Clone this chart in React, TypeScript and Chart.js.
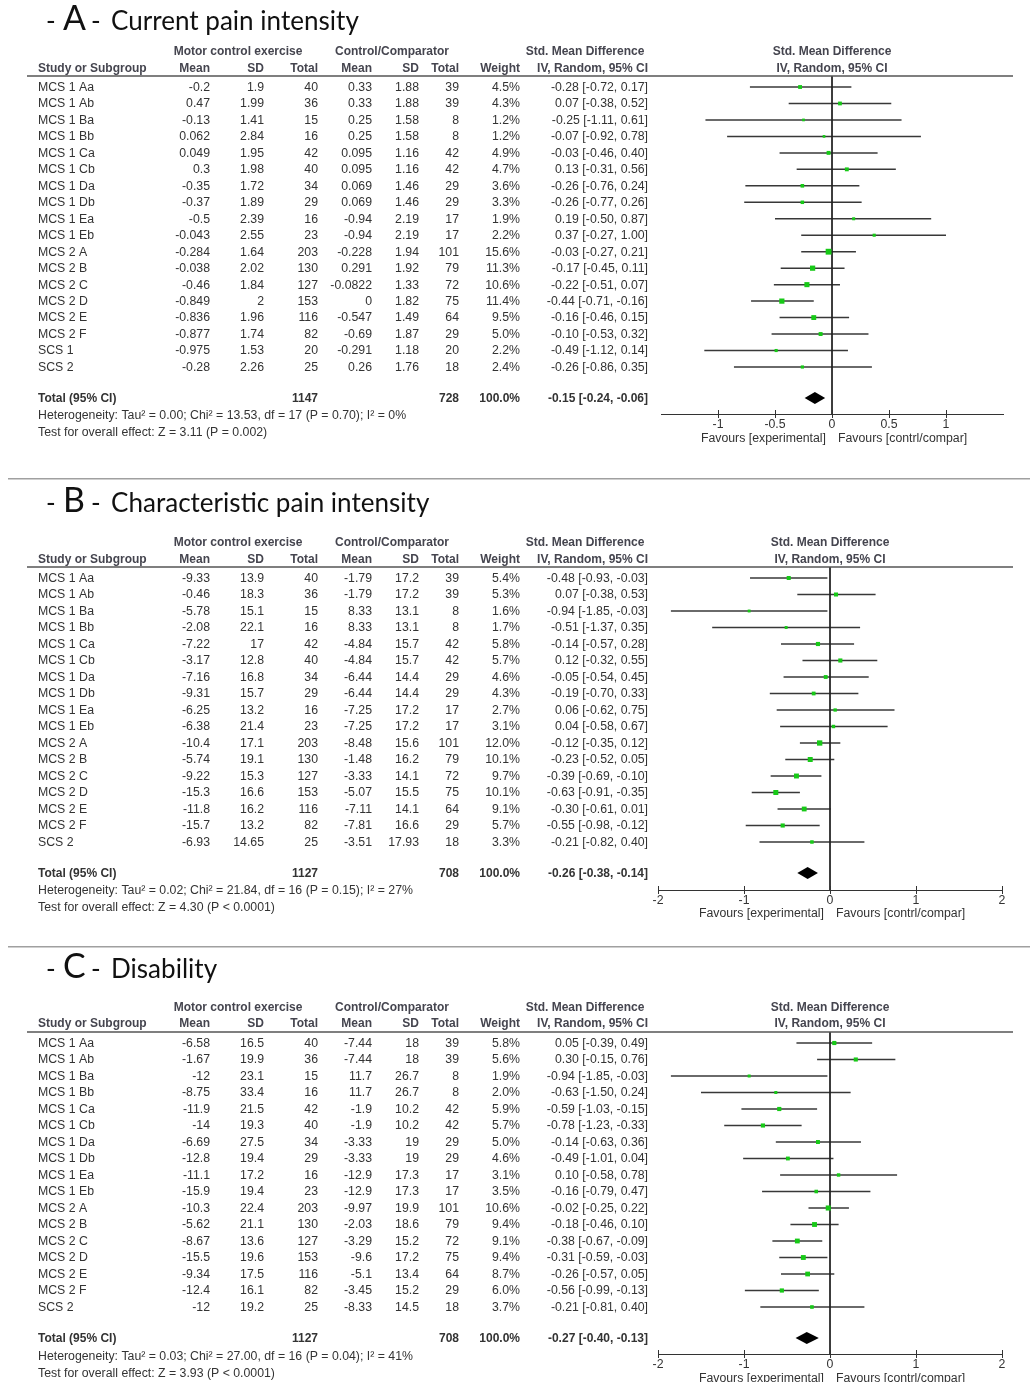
import React, { useEffect, useRef } from 'react';
import { Chart, registerables } from 'chart.js';

Chart.register(...registerables);

// ---------- Panel A: Current pain intensity ----------
const A_studies = ['MCS 1 Aa', 'MCS 1 Ab', 'MCS 1 Ba', 'MCS 1 Bb', 'MCS 1 Ca', 'MCS 1 Cb', 'MCS 1 Da', 'MCS 1 Db', 'MCS 1 Ea', 'MCS 1 Eb', 'MCS 2 A', 'MCS 2 B', 'MCS 2 C', 'MCS 2 D', 'MCS 2 E', 'MCS 2 F', 'SCS 1', 'SCS 2'];
const A_expMean = [-0.2, 0.47, -0.13, 0.062, 0.049, 0.3, -0.35, -0.37, -0.5, -0.043, -0.284, -0.038, -0.46, -0.849, -0.836, -0.877, -0.975, -0.28];
const A_expSD = [1.9, 1.99, 1.41, 2.84, 1.95, 1.98, 1.72, 1.89, 2.39, 2.55, 1.64, 2.02, 1.84, 2, 1.96, 1.74, 1.53, 2.26];
const A_expN = [40, 36, 15, 16, 42, 40, 34, 29, 16, 23, 203, 130, 127, 153, 116, 82, 20, 25];
const A_ctlMean = [0.33, 0.33, 0.25, 0.25, 0.095, 0.095, 0.069, 0.069, -0.94, -0.94, -0.228, 0.291, -0.0822, 0, -0.547, -0.69, -0.291, 0.26];
const A_ctlSD = [1.88, 1.88, 1.58, 1.58, 1.16, 1.16, 1.46, 1.46, 2.19, 2.19, 1.94, 1.92, 1.33, 1.82, 1.49, 1.87, 1.18, 1.76];
const A_ctlN = [39, 39, 8, 8, 42, 42, 29, 29, 17, 17, 101, 79, 72, 75, 64, 29, 20, 18];
const A_weight = [4.5, 4.3, 1.2, 1.2, 4.9, 4.7, 3.6, 3.3, 1.9, 2.2, 15.6, 11.3, 10.6, 11.4, 9.5, 5.0, 2.2, 2.4];
const A_smd = [-0.28, 0.07, -0.25, -0.07, -0.03, 0.13, -0.26, -0.26, 0.19, 0.37, -0.03, -0.17, -0.22, -0.44, -0.16, -0.10, -0.49, -0.26];
const A_lo = [-0.72, -0.38, -1.11, -0.92, -0.46, -0.31, -0.76, -0.77, -0.50, -0.27, -0.27, -0.45, -0.51, -0.71, -0.46, -0.53, -1.12, -0.86];
const A_hi = [0.17, 0.52, 0.61, 0.78, 0.40, 0.56, 0.24, 0.26, 0.87, 1.00, 0.21, 0.11, 0.07, -0.16, 0.15, 0.32, 0.14, 0.35];
const A_totalN = [1147, 728];
const A_pooled = [-0.15, -0.24, -0.06];
const A_ticks = [-1, -0.5, 0, 0.5, 1];
const A_range = [-1.5, 1.5];
const A_het = 'Heterogeneity: Tau² = 0.00; Chi² = 13.53, df = 17 (P = 0.70); I² = 0%';
const A_test = 'Test for overall effect: Z = 3.11 (P = 0.002)';

// ---------- Panel B: Characteristic pain intensity ----------
const B_studies = ['MCS 1 Aa', 'MCS 1 Ab', 'MCS 1 Ba', 'MCS 1 Bb', 'MCS 1 Ca', 'MCS 1 Cb', 'MCS 1 Da', 'MCS 1 Db', 'MCS 1 Ea', 'MCS 1 Eb', 'MCS 2 A', 'MCS 2 B', 'MCS 2 C', 'MCS 2 D', 'MCS 2 E', 'MCS 2 F', 'SCS 2'];
const B_expMean = [-9.33, -0.46, -5.78, -2.08, -7.22, -3.17, -7.16, -9.31, -6.25, -6.38, -10.4, -5.74, -9.22, -15.3, -11.8, -15.7, -6.93];
const B_expSD = [13.9, 18.3, 15.1, 22.1, 17, 12.8, 16.8, 15.7, 13.2, 21.4, 17.1, 19.1, 15.3, 16.6, 16.2, 13.2, 14.65];
const B_expN = [40, 36, 15, 16, 42, 40, 34, 29, 16, 23, 203, 130, 127, 153, 116, 82, 25];
const B_ctlMean = [-1.79, -1.79, 8.33, 8.33, -4.84, -4.84, -6.44, -6.44, -7.25, -7.25, -8.48, -1.48, -3.33, -5.07, -7.11, -7.81, -3.51];
const B_ctlSD = [17.2, 17.2, 13.1, 13.1, 15.7, 15.7, 14.4, 14.4, 17.2, 17.2, 15.6, 16.2, 14.1, 15.5, 14.1, 16.6, 17.93];
const B_ctlN = [39, 39, 8, 8, 42, 42, 29, 29, 17, 17, 101, 79, 72, 75, 64, 29, 18];
const B_weight = [5.4, 5.3, 1.6, 1.7, 5.8, 5.7, 4.6, 4.3, 2.7, 3.1, 12.0, 10.1, 9.7, 10.1, 9.1, 5.7, 3.3];
const B_smd = [-0.48, 0.07, -0.94, -0.51, -0.14, 0.12, -0.05, -0.19, 0.06, 0.04, -0.12, -0.23, -0.39, -0.63, -0.30, -0.55, -0.21];
const B_lo = [-0.93, -0.38, -1.85, -1.37, -0.57, -0.32, -0.54, -0.70, -0.62, -0.58, -0.35, -0.52, -0.69, -0.91, -0.61, -0.98, -0.82];
const B_hi = [-0.03, 0.53, -0.03, 0.35, 0.28, 0.55, 0.45, 0.33, 0.75, 0.67, 0.12, 0.05, -0.10, -0.35, 0.01, -0.12, 0.40];
const B_totalN = [1127, 708];
const B_pooled = [-0.26, -0.38, -0.14];
const B_ticks = [-2, -1, 0, 1, 2];
const B_range = [-2, 2];
const B_het = 'Heterogeneity: Tau² = 0.02; Chi² = 21.84, df = 16 (P = 0.15); I² = 27%';
const B_test = 'Test for overall effect: Z = 4.30 (P < 0.0001)';

// ---------- Panel C: Disability ----------
const C_studies = ['MCS 1 Aa', 'MCS 1 Ab', 'MCS 1 Ba', 'MCS 1 Bb', 'MCS 1 Ca', 'MCS 1 Cb', 'MCS 1 Da', 'MCS 1 Db', 'MCS 1 Ea', 'MCS 1 Eb', 'MCS 2 A', 'MCS 2 B', 'MCS 2 C', 'MCS 2 D', 'MCS 2 E', 'MCS 2 F', 'SCS 2'];
const C_expMean = [-6.58, -1.67, -12, -8.75, -11.9, -14, -6.69, -12.8, -11.1, -15.9, -10.3, -5.62, -8.67, -15.5, -9.34, -12.4, -12];
const C_expSD = [16.5, 19.9, 23.1, 33.4, 21.5, 19.3, 27.5, 19.4, 17.2, 19.4, 22.4, 21.1, 13.6, 19.6, 17.5, 16.1, 19.2];
const C_expN = [40, 36, 15, 16, 42, 40, 34, 29, 16, 23, 203, 130, 127, 153, 116, 82, 25];
const C_ctlMean = [-7.44, -7.44, 11.7, 11.7, -1.9, -1.9, -3.33, -3.33, -12.9, -12.9, -9.97, -2.03, -3.29, -9.6, -5.1, -3.45, -8.33];
const C_ctlSD = [18, 18, 26.7, 26.7, 10.2, 10.2, 19, 19, 17.3, 17.3, 19.9, 18.6, 15.2, 17.2, 13.4, 15.2, 14.5];
const C_ctlN = [39, 39, 8, 8, 42, 42, 29, 29, 17, 17, 101, 79, 72, 75, 64, 29, 18];
const C_weight = [5.8, 5.6, 1.9, 2.0, 5.9, 5.7, 5.0, 4.6, 3.1, 3.5, 10.6, 9.4, 9.1, 9.4, 8.7, 6.0, 3.7];
const C_smd = [0.05, 0.30, -0.94, -0.63, -0.59, -0.78, -0.14, -0.49, 0.10, -0.16, -0.02, -0.18, -0.38, -0.31, -0.26, -0.56, -0.21];
const C_lo = [-0.39, -0.15, -1.85, -1.50, -1.03, -1.23, -0.63, -1.01, -0.58, -0.79, -0.25, -0.46, -0.67, -0.59, -0.57, -0.99, -0.81];
const C_hi = [0.49, 0.76, -0.03, 0.24, -0.15, -0.33, 0.36, 0.04, 0.78, 0.47, 0.22, 0.10, -0.09, -0.03, 0.05, -0.13, 0.40];
const C_totalN = [1127, 708];
const C_pooled = [-0.27, -0.40, -0.13];
const C_ticks = [-2, -1, 0, 1, 2];
const C_range = [-2, 2];
const C_het = 'Heterogeneity: Tau² = 0.03; Chi² = 27.00, df = 16 (P = 0.04); I² = 41%';
const C_test = 'Test for overall effect: Z = 3.93 (P < 0.0001)';

const PANELS = [
  { letter: 'A', title: 'Current pain intensity', studies: A_studies, expMean: A_expMean, expSD: A_expSD, expN: A_expN, ctlMean: A_ctlMean, ctlSD: A_ctlSD, ctlN: A_ctlN, weight: A_weight, smd: A_smd, lo: A_lo, hi: A_hi, totalN: A_totalN, pooled: A_pooled, ticks: A_ticks, range: A_range, het: A_het, test: A_test },
  { letter: 'B', title: 'Characteristic pain intensity', studies: B_studies, expMean: B_expMean, expSD: B_expSD, expN: B_expN, ctlMean: B_ctlMean, ctlSD: B_ctlSD, ctlN: B_ctlN, weight: B_weight, smd: B_smd, lo: B_lo, hi: B_hi, totalN: B_totalN, pooled: B_pooled, ticks: B_ticks, range: B_range, het: B_het, test: B_test },
  { letter: 'C', title: 'Disability', studies: C_studies, expMean: C_expMean, expSD: C_expSD, expN: C_expN, ctlMean: C_ctlMean, ctlSD: C_ctlSD, ctlN: C_ctlN, weight: C_weight, smd: C_smd, lo: C_lo, hi: C_hi, totalN: C_totalN, pooled: C_pooled, ticks: C_ticks, range: C_range, het: C_het, test: C_test },
];

// ---------- Layout (pixels) ----------
const LAYOUTS = [
  { h: 478, titleY: 30, groupY: 52, headY: 69, lineY: 76, row0: 87, step: 16.47, totalY: 398, hetY: 416, testY: 433, axisY: 414, favY: 439, plotL: 661, plotR: 1003, sep: false },
  { h: 468, titleY: 34, groupY: 65, headY: 82, lineY: 89, row0: 100, step: 16.5, totalY: 395, hetY: 413, testY: 430, axisY: 412, favY: 436, plotL: 658, plotR: 1002, sep: true },
  { h: 436, titleY: 32, groupY: 62, headY: 78, lineY: 86, row0: 97, step: 16.5, totalY: 392, hetY: 411, testY: 428, axisY: 408, favY: 433, plotL: 658, plotR: 1002, sep: true },
];

const W = 1030;
const FONT = '"Liberation Sans", Arial, Helvetica, sans-serif';
const TITLE_FONT = 'Lato, "Open Sans", sans-serif';
const TEXT = '#333333';
const HEAD = '#45454f';
const GREEN = '#17c917';
const AXIS_H = 20;
const BODY_SIZE = 12.3;

const f2 = (v: number) => v.toFixed(2);
const ci = (m: number, l: number, h: number) => `${f2(m)} [${f2(l)}, ${f2(h)}]`;

// column right edges
const COL = { study: 38, eMean: 210, eSD: 264, eN: 318, cMean: 372, cSD: 419, cN: 459, weight: 520, ci: 648 };

function titleSize(ctx: CanvasRenderingContext2D) {
  ctx.save();
  ctx.font = `100px ${TITLE_FONT}`;
  const w = ctx.measureText('Current pain intensity').width;
  ctx.restore();
  return Math.max(18, Math.min(30, (100 * 248) / w));
}

function makePlugin(P: any, L: any) {
  return {
    id: 'forestTable' + P.letter,
    afterDatasetsDraw(chart: any) {
      const ctx = chart.ctx as CanvasRenderingContext2D;
      const xs = chart.scales.x;
      const ys = chart.scales.y;
      const yT = ys.getPixelForValue((L.totalY - L.row0) / L.step);
      const xl = xs.getPixelForValue(P.pooled[1]);
      const xm = xs.getPixelForValue(P.pooled[0]);
      const xh = xs.getPixelForValue(P.pooled[2]);
      ctx.save();
      ctx.fillStyle = '#000';
      ctx.beginPath();
      ctx.moveTo(xl, yT);
      ctx.lineTo(xm, yT - 6);
      ctx.lineTo(xh, yT);
      ctx.lineTo(xm, yT + 6);
      ctx.closePath();
      ctx.fill();
      // tick marks crossing the axis
      ctx.strokeStyle = '#333';
      ctx.lineWidth = 1;
      const ay = chart.chartArea.bottom;
      for (const t of xs.ticks) {
        const px = Math.round(xs.getPixelForValue(t.value)) + 0.5;
        ctx.beginPath();
        ctx.moveTo(px, ay - 4);
        ctx.lineTo(px, ay + 4);
        ctx.stroke();
      }
      ctx.restore();
    },
    afterDraw(chart: any) {
      const ctx = chart.ctx as CanvasRenderingContext2D;
      const xs = chart.scales.x;
      const ys = chart.scales.y;
      const ca = chart.chartArea;
      ctx.save();
      if (L.sep) {
        ctx.strokeStyle = '#a0a0a0';
        ctx.lineWidth = 1.5;
        ctx.beginPath();
        ctx.moveTo(8, 0.75);
        ctx.lineTo(W, 0.75);
        ctx.stroke();
      }
      // title
      const ts = titleSize(ctx);
      ctx.fillStyle = '#111';
      ctx.textBaseline = 'alphabetic';
      ctx.textAlign = 'left';
      ctx.font = `${ts}px ${TITLE_FONT}`;
      ctx.fillText('-', 46, L.titleY);
      ctx.font = `${ts * 1.3}px ${TITLE_FONT}`;
      ctx.fillText(P.letter, 63, L.titleY);
      ctx.font = `${ts}px ${TITLE_FONT}`;
      ctx.fillText('-', 91, L.titleY);
      ctx.fillText(P.title, 111, L.titleY);

      // group headers
      ctx.textBaseline = 'middle';
      ctx.font = `bold 12px ${FONT}`;
      ctx.fillStyle = HEAD;
      ctx.textAlign = 'center';
      const mid = (ca.left + ca.right) / 2;
      ctx.fillText('Motor control exercise', 238, L.groupY);
      ctx.fillText('Control/Comparator', 392, L.groupY);
      ctx.fillText('Std. Mean Difference', 585, L.groupY);
      ctx.fillText('Std. Mean Difference', mid, L.groupY);
      ctx.fillText('IV, Random, 95% CI', mid, L.headY);
      ctx.textAlign = 'left';
      ctx.fillText('Study or Subgroup', COL.study, L.headY);
      ctx.textAlign = 'right';
      ctx.fillText('Mean', COL.eMean, L.headY);
      ctx.fillText('SD', COL.eSD, L.headY);
      ctx.fillText('Total', COL.eN, L.headY);
      ctx.fillText('Mean', COL.cMean, L.headY);
      ctx.fillText('SD', COL.cSD, L.headY);
      ctx.fillText('Total', COL.cN, L.headY);
      ctx.fillText('Weight', COL.weight, L.headY);
      ctx.fillText('IV, Random, 95% CI', COL.ci, L.headY);

      // header underline
      ctx.strokeStyle = '#555';
      ctx.lineWidth = 1.5;
      ctx.beginPath();
      ctx.moveTo(27, L.lineY);
      ctx.lineTo(1013, L.lineY);
      ctx.stroke();

      // study rows
      ctx.font = `${BODY_SIZE}px ${FONT}`;
      ctx.fillStyle = TEXT;
      P.studies.forEach((s: string, i: number) => {
        const y = ys.getPixelForValue(i) + 0.5;
        ctx.textAlign = 'left';
        ctx.fillText(s, COL.study, y);
        ctx.textAlign = 'right';
        ctx.fillText(String(P.expMean[i]), COL.eMean, y);
        ctx.fillText(String(P.expSD[i]), COL.eSD, y);
        ctx.fillText(String(P.expN[i]), COL.eN, y);
        ctx.fillText(String(P.ctlMean[i]), COL.cMean, y);
        ctx.fillText(String(P.ctlSD[i]), COL.cSD, y);
        ctx.fillText(String(P.ctlN[i]), COL.cN, y);
        ctx.fillText(P.weight[i].toFixed(1) + '%', COL.weight, y);
        ctx.fillText(ci(P.smd[i], P.lo[i], P.hi[i]), COL.ci, y);
      });

      // total row
      const yT = ys.getPixelForValue((L.totalY - L.row0) / L.step) + 0.5;
      ctx.font = `bold 12px ${FONT}`;
      ctx.textAlign = 'left';
      ctx.fillText('Total (95% CI)', COL.study, yT);
      ctx.textAlign = 'right';
      ctx.fillText(String(P.totalN[0]), COL.eN, yT);
      ctx.fillText(String(P.totalN[1]), COL.cN, yT);
      ctx.fillText('100.0%', COL.weight, yT);
      ctx.fillText(ci(P.pooled[0], P.pooled[1], P.pooled[2]), COL.ci, yT);

      ctx.font = `${BODY_SIZE}px ${FONT}`;
      ctx.textAlign = 'left';
      ctx.fillText(P.het, COL.study, L.hetY);
      ctx.fillText(P.test, COL.study, L.testY);

      // favours labels
      const x0 = xs.getPixelForValue(0);
      ctx.textAlign = 'right';
      ctx.fillText('Favours [experimental]', x0 - 6, L.favY);
      ctx.textAlign = 'left';
      ctx.fillText('Favours [contrl/compar]', x0 + 6, L.favY);
      ctx.restore();
    },
  };
}

function ForestPanel({ panel, layout }: { panel: any; layout: any }) {
  const ref = useRef<HTMLCanvasElement | null>(null);
  useEffect(() => {
    if (!ref.current) return;
    const P = panel;
    const L = layout;
    const yMin = (L.lineY - L.row0) / L.step;
    const yMax = (L.axisY - L.row0) / L.step;
    const ciSets = P.studies.map((s: string, i: number) => ({
      type: 'line',
      label: s,
      data: [{ x: P.lo[i], y: i }, { x: P.hi[i], y: i }],
      borderColor: '#383838',
      borderWidth: 1.5,
      pointRadius: 0,
      order: 2,
    }));
    const chart = new Chart(ref.current, {
      type: 'scatter',
      data: {
        datasets: [
          {
            type: 'scatter',
            label: 'SMD',
            data: P.smd.map((v: number, i: number) => ({ x: v, y: i })),
            pointStyle: 'rect',
            pointRadius: P.weight.map((w: number) => (1.5 + 1.1 * Math.sqrt(w)) / 1.414),
            backgroundColor: GREEN,
            borderWidth: 0,
            order: 0,
          } as any,
          {
            type: 'line',
            label: 'zero',
            data: [{ x: 0, y: yMin }, { x: 0, y: yMax }],
            borderColor: '#222',
            borderWidth: 1,
            pointRadius: 0,
            order: 1,
          } as any,
          ...ciSets,
        ],
      },
      options: {
        responsive: false,
        animation: false,
        events: [],
        layout: {
          padding: { left: L.plotL, right: W - L.plotR, top: L.lineY, bottom: L.h - L.axisY - AXIS_H },
        },
        plugins: { legend: { display: false }, tooltip: { enabled: false }, title: { display: false } },
        scales: {
          x: {
            type: 'linear',
            min: P.range[0],
            max: P.range[1],
            afterBuildTicks: (s: any) => {
              s.ticks = P.ticks.map((v: number) => ({ value: v }));
            },
            afterFit: (s: any) => {
              s.height = AXIS_H;
            },
            grid: { display: false, drawTicks: false },
            border: { display: true, color: '#333', width: 1 },
            ticks: {
              callback: (v: any) => String(v),
              font: { size: BODY_SIZE, family: FONT },
              color: TEXT,
              padding: 3,
              maxRotation: 0,
              autoSkip: false,
            },
          },
          y: { type: 'linear', min: yMin, max: yMax, reverse: true, display: false },
        },
      } as any,
      plugins: [makePlugin(P, L)],
    });
    return () => chart.destroy();
  }, [panel, layout]);
  return (
    <canvas
      ref={ref}
      width={W}
      height={layout.h}
      style={{ display: 'block', width: W, height: layout.h }}
    />
  );
}

export default function App() {
  useEffect(() => {
    document.body.style.margin = '0';
    document.body.style.background = '#ffffff';
  }, []);
  return (
    <div style={{ width: W, background: '#fff' }}>
      {PANELS.map((p, i) => (
        <ForestPanel key={p.letter} panel={p} layout={LAYOUTS[i]} />
      ))}
    </div>
  );
}
